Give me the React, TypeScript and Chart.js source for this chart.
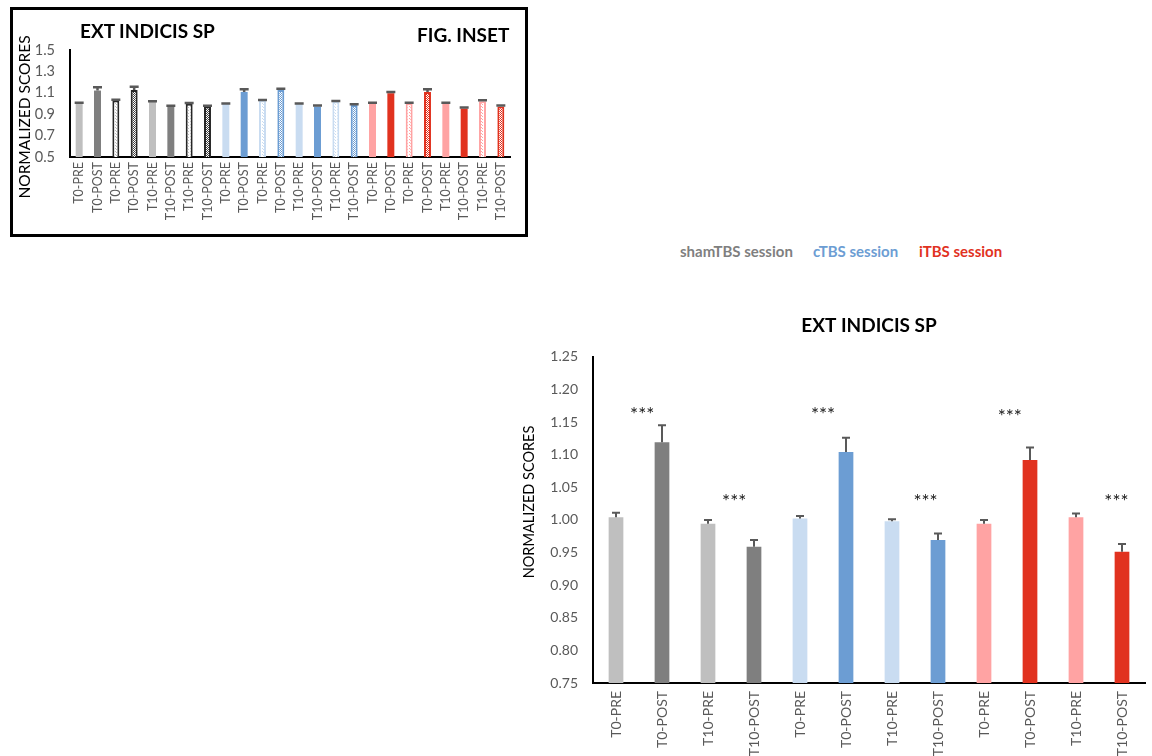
import React, { useEffect, useRef } from "react";
import { Chart, registerables } from "chart.js";

Chart.register(...registerables);

const FONT = "Lato, 'Open Sans', sans-serif";

// ---------- Main chart data ----------
const mainLabels = [
  "T0-PRE", "T0-POST", "T10-PRE", "T10-POST",
  "T0-PRE", "T0-POST", "T10-PRE", "T10-POST",
  "T0-PRE", "T0-POST", "T10-PRE", "T10-POST",
];
const mainValues = [1.004, 1.119, 0.994, 0.959, 1.002, 1.104, 0.998, 0.969, 0.994, 1.092, 1.004, 0.951];
const mainErrors = [0.007, 0.026, 0.006, 0.010, 0.004, 0.022, 0.003, 0.010, 0.006, 0.019, 0.006, 0.012];
const starPositions = [0.57, 2.57, 4.5, 6.73, 8.56, 10.88];
const starValues = [1.168, 1.034, 1.168, 1.034, 1.165, 1.034];
const mainYMin = 0.75;
const mainYMax = 1.25;
const mainYStep = 0.05;

// ---------- Inset data ----------
const insetLabels = [
  "T0-PRE", "T0-POST", "T0-PRE", "T0-POST", "T10-PRE", "T10-POST", "T10-PRE", "T10-POST",
  "T0-PRE", "T0-POST", "T0-PRE", "T0-POST", "T10-PRE", "T10-POST", "T10-PRE", "T10-POST",
  "T0-PRE", "T0-POST", "T0-PRE", "T0-POST", "T10-PRE", "T10-POST", "T10-PRE", "T10-POST",
];
const insetValues = [
  1.003, 1.121, 1.027, 1.127, 1.015, 0.972, 0.997, 0.972,
  0.997, 1.108, 1.027, 1.127, 0.994, 0.972, 1.018, 0.985,
  1.003, 1.096, 1.003, 1.108, 1.003, 0.953, 1.022, 0.972,
];
const insetErrors = [
  0.005, 0.030, 0.007, 0.030, 0.006, 0.006, 0.008, 0.008,
  0.004, 0.025, 0.006, 0.012, 0.006, 0.009, 0.006, 0.009,
  0.003, 0.012, 0.003, 0.025, 0.003, 0.009, 0.009, 0.009,
];
const insetYMin = 0.5;
const insetYMax = 1.5;
const insetYStep = 0.2;

// ---------- Styles ----------
const C = {
  shamLight: "#bfbfbf",
  shamDark: "#7f7f7f",
  cLight: "#c9dcf1",
  cDark: "#6c9dd3",
  iLight: "#ffa3a3",
  iDark: "#e1321f",
};
const mainColors = [
  C.shamLight, C.shamDark, C.shamLight, C.shamDark,
  C.cLight, C.cDark, C.cLight, C.cDark,
  C.iLight, C.iDark, C.iLight, C.iDark,
];

function makePattern(bg: string, dot: string, period: number) {
  const c = document.createElement("canvas");
  c.width = period;
  c.height = period;
  const g = c.getContext("2d")!;
  g.fillStyle = bg;
  g.fillRect(0, 0, period, period);
  g.fillStyle = dot;
  g.fillRect(0, 0, 1, 1);
  if (period >= 2) g.fillRect(Math.floor(period / 2), Math.floor(period / 2), 1, 1);
  return g.createPattern(c, "repeat")!;
}

function errorBarPlugin(errors: number[], capHalf: number, lw: number, color: string) {
  return {
    id: "errbars",
    afterDatasetsDraw(chart: any) {
      const meta = chart.getDatasetMeta(0);
      const ys = chart.scales.y;
      const vals = chart.data.datasets[0].data as number[];
      const ctx = chart.ctx;
      ctx.save();
      ctx.strokeStyle = color;
      ctx.lineWidth = lw;
      meta.data.forEach((el: any, i: number) => {
        const x = el.x;
        const yb = el.y;
        const yt = ys.getPixelForValue(vals[i] + errors[i]);
        ctx.beginPath();
        ctx.moveTo(x, yb);
        ctx.lineTo(x, yt);
        ctx.moveTo(x - capHalf, yt);
        ctx.lineTo(x + capHalf, yt);
        ctx.stroke();
      });
      ctx.restore();
    },
  };
}

// Rotated axis title drawn on the canvas (offset from the axis centre like the original)
function axisTitlePlugin(text: string, cx: number, cy: number, size: number) {
  return {
    id: "axisTitle",
    afterDraw(chart: any) {
      const ctx = chart.ctx;
      ctx.save();
      ctx.translate(cx, cy);
      ctx.rotate(-Math.PI / 2);
      ctx.fillStyle = "#000";
      ctx.font = `${size}px ${FONT}`;
      ctx.textAlign = "center";
      ctx.textBaseline = "middle";
      ctx.fillText(text, 0, 0);
      ctx.restore();
    },
  };
}

const starPlugin = {
  id: "stars",
  afterDatasetsDraw(chart: any) {
    const xs = chart.scales.x;
    const ys = chart.scales.y;
    const ctx = chart.ctx;
    const size = 19;
    ctx.save();
    ctx.fillStyle = "#1a1a1a";
    ctx.font = `${size}px ${FONT}`;
    ctx.textAlign = "center";
    ctx.textBaseline = "alphabetic";
    starPositions.forEach((p, i) => {
      const x = xs.getPixelForValue(p);
      const y = ys.getPixelForValue(starValues[i]) + size * 0.56;
      ctx.fillText("***", x, y);
    });
    ctx.restore();
  },
};

function MainChart() {
  const ref = useRef<HTMLCanvasElement>(null);
  useEffect(() => {
    const chart = new Chart(ref.current!, {
      type: "bar",
      data: {
        labels: mainLabels,
        datasets: [
          {
            data: mainValues,
            backgroundColor: mainColors,
            borderWidth: 0,
            barPercentage: 0.32,
            categoryPercentage: 1,
          },
        ],
      },
      options: {
        responsive: false,
        animation: false,
        layout: { padding: { left: 0, right: 7, top: 0, bottom: 0 } },
        plugins: {
          legend: { display: false },
          tooltip: { enabled: false },
          title: {
            display: true,
            text: "EXT INDICIS SP",
            fullSize: false,
            color: "#000",
            font: { family: FONT, size: 19, weight: "bold" },
            padding: { top: 14, bottom: 20 },
          },
        },
        scales: {
          x: {
            grid: { display: false, drawTicks: false },
            border: { display: true, color: "#000", width: 2 },
            ticks: {
              color: "#595959",
              font: { family: FONT, size: 14 },
              minRotation: 90,
              maxRotation: 90,
              padding: 8,
              autoSkip: false,
            },
            afterFit: (s: any) => {
              s.height = 73;
            },
          },
          y: {
            min: mainYMin,
            max: mainYMax,
            grid: { display: false, drawTicks: false },
            border: { display: true, color: "#000", width: 2 },
            ticks: {
              stepSize: mainYStep,
              color: "#595959",
              font: { family: FONT, size: 14 },
              padding: 15,
              callback: (v: any) => Number(v).toFixed(2),
            },
            afterFit: (s: any) => {
              s.width = 93;
            },
          },
        },
      } as any,
      plugins: [
        errorBarPlugin(mainErrors, 4, 2, "#595959"),
        starPlugin,
        axisTitlePlugin("NORMALIZED SCORES", 29, 202, 14.5),
      ],
    });
    return () => chart.destroy();
  }, []);
  return <canvas ref={ref} width={652} height={456} style={{ width: 652, height: 456, display: "block" }} />;
}

function InsetChart() {
  const ref = useRef<HTMLCanvasElement>(null);
  useEffect(() => {
    const groups = [
      { light: C.shamLight, dark: C.shamDark, patBorder: "#262626", preDot: "#bfbfbf", postBg: "#ffffff", postDot: "#404040" },
      { light: C.cLight, dark: C.cDark, patBorder: null, preDot: C.cLight, postBg: C.cDark, postDot: "#ffffff" },
      { light: C.iLight, dark: C.iDark, patBorder: null, preDot: C.iLight, postBg: C.iDark, postDot: "#ffffff" },
    ];
    const bg: any[] = [];
    const bc: string[] = [];
    const bw: number[] = [];
    groups.forEach((g) => {
      const prePat = makePattern("#ffffff", g.preDot, 3);
      const postPat = makePattern(g.postBg, g.postDot, 2);
      for (let k = 0; k < 2; k++) {
        bg.push(g.light); bc.push(g.light); bw.push(0);
        bg.push(g.dark); bc.push(g.dark); bw.push(0);
        bg.push(prePat); bc.push(g.patBorder || g.light); bw.push(2);
        bg.push(postPat); bc.push(g.patBorder || g.dark); bw.push(2);
      }
    });
    const chart = new Chart(ref.current!, {
      type: "bar",
      data: {
        labels: insetLabels,
        datasets: [
          {
            data: insetValues,
            backgroundColor: bg,
            borderColor: bc,
            borderWidth: bw,
            barPercentage: 0.38,
            categoryPercentage: 1,
          },
        ],
      },
      options: {
        responsive: false,
        animation: false,
        layout: { padding: { left: 0, right: 15, top: 40, bottom: 0 } },
        plugins: {
          legend: { display: false },
          tooltip: { enabled: false },
        },
        scales: {
          x: {
            grid: { display: false, drawTicks: false },
            border: { display: true, color: "#000", width: 2 },
            ticks: {
              color: "#595959",
              font: { family: FONT, size: 12.5 },
              minRotation: 90,
              maxRotation: 90,
              padding: 5,
              autoSkip: false,
            },
            afterFit: (s: any) => {
              s.height = 77;
            },
          },
          y: {
            min: insetYMin,
            max: insetYMax,
            grid: { display: false, drawTicks: false },
            border: { display: true, color: "#000", width: 2 },
            ticks: {
              stepSize: insetYStep,
              color: "#595959",
              font: { family: FONT, size: 14.5 },
              padding: 15,
              callback: (v: any) => Number(v).toFixed(1),
            },
            afterFit: (s: any) => {
              s.width = 57;
            },
          },
        },
      } as any,
      plugins: [
        errorBarPlugin(insetErrors, 4.5, 2.5, "#595959"),
        axisTitlePlugin("NORMALIZED SCORES", 12, 107, 15.5),
      ],
    });
    return () => chart.destroy();
  }, []);
  return <canvas ref={ref} width={512} height={224} style={{ width: 512, height: 224, display: "block" }} />;
}

export default function App() {
  const abs = (l: number, t: number): React.CSSProperties => ({ position: "absolute", left: l, top: t });
  const legendStyle = (l: number, color: string): React.CSSProperties => ({
    ...abs(l, 244),
    fontSize: 15,
    lineHeight: "15px",
    fontWeight: "bold",
    color,
    whiteSpace: "nowrap",
  });
  return (
    <div style={{ position: "fixed", left: 0, top: 0, width: 1152, height: 756, background: "#fff", fontFamily: FONT }}>
      {/* Inset */}
      <div style={{ ...abs(10, 7), width: 512, height: 224, border: "3px solid #000" }}>
        <InsetChart />
      </div>
      <div style={{ ...abs(80, 21), fontSize: 19, lineHeight: "20px", fontWeight: "bold", color: "#000", whiteSpace: "nowrap" }}>
        EXT INDICIS SP
      </div>
      <div style={{ ...abs(417, 25), fontSize: 19, lineHeight: "20px", fontWeight: "bold", color: "#000", whiteSpace: "nowrap" }}>
        FIG. INSET
      </div>

      {/* Legend */}
      <div style={legendStyle(680, C.shamDark)}>shamTBS session</div>
      <div style={legendStyle(813, C.cDark)}>cTBS session</div>
      <div style={legendStyle(919, C.iDark)}>iTBS session</div>

      {/* Main chart */}
      <div style={{ ...abs(500, 300) }}>
        <MainChart />
      </div>
    </div>
  );
}
